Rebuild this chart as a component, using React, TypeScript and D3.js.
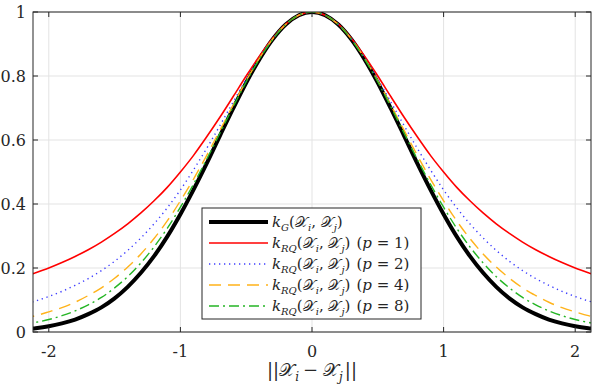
import React from 'react';
import * as d3 from 'd3';

// distance values ||Xi - Xj||
const dist = [-2.2, -2.1, -2.0, -1.9, -1.8, -1.7, -1.6, -1.5, -1.4, -1.3, -1.2, -1.1, -1.0, -0.9, -0.8, -0.7, -0.6, -0.5, -0.4, -0.3, -0.2, -0.1,
  0, 0.1, 0.2, 0.3, 0.4, 0.5, 0.6, 0.7, 0.8, 0.9, 1.0, 1.1, 1.2, 1.3, 1.4, 1.5, 1.6, 1.7, 1.8, 1.9, 2.0, 2.1, 2.2];

const kG = [.008, .012, .018, .027, .039, .056, .077, .105, .141, .185, .237, .298, .368, .445, .527, .613, .698, .779, .852, .914, .961, .990,
  1, .990, .961, .914, .852, .779, .698, .613, .527, .445, .368, .298, .237, .185, .141, .105, .077, .056, .039, .027, .018, .012, .008];
const kRQ1 = [.171, .185, .200, .217, .236, .257, .281, .308, .338, .372, .410, .452, .500, .552, .610, .671, .735, .800, .862, .917, .962, .990,
  1, .990, .962, .917, .862, .800, .735, .671, .610, .552, .500, .452, .410, .372, .338, .308, .281, .257, .236, .217, .200, .185, .171];
const kRQ2 = [.086, .097, .111, .127, .146, .167, .192, .221, .255, .294, .338, .388, .444, .507, .574, .645, .718, .790, .857, .916, .961, .990,
  1, .990, .961, .916, .857, .790, .718, .645, .574, .507, .444, .388, .338, .294, .255, .221, .192, .167, .146, .127, .111, .097, .086];
const kRQ4 = [.042, .051, .063, .076, .093, .114, .138, .168, .203, .244, .292, .347, .410, .478, .552, .630, .708, .785, .855, .915, .961, .990,
  1, .990, .961, .915, .855, .785, .708, .630, .552, .478, .410, .347, .292, .244, .203, .168, .138, .114, .093, .076, .063, .051, .042];
const kRQ8 = [.023, .030, .039, .051, .066, .085, .108, .138, .173, .216, .266, .324, .390, .462, .540, .621, .703, .782, .853, .914, .961, .990,
  1, .990, .961, .914, .853, .782, .703, .621, .540, .462, .390, .324, .266, .216, .173, .138, .108, .085, .066, .051, .039, .030, .023];

const xTicks = [-2, -1, 0, 1, 2];
const yTicks = [0, 0.2, 0.4, 0.6, 0.8, 1];
const pValues = [null, 1, 2, 4, 8];

const series = [
  { values: kG, color: '#000000', width: 4, dash: null },
  { values: kRQ1, color: '#ff0000', width: 1.6, dash: null },
  { values: kRQ2, color: '#3c3cff', width: 1.4, dash: '1.3 3.7' },
  { values: kRQ4, color: '#ffb31a', width: 1.4, dash: '12 7' },
  { values: kRQ8, color: '#25b525', width: 1.4, dash: '10 4 2 4' },
];

const W = 598, H = 387;
const m = { left: 33, right: 7, top: 12, bottom: 55 };
const FONT = "'DejaVu Serif', serif";
const SCRIPT_X = '\u{1D4B3}';
const serif: React.CSSProperties = { fontFamily: FONT };

function KernelLabel({ x, y, sub, p }: { x: number; y: number; sub: string; p: number | null }) {
  return (
    <text x={x} y={y} style={serif} fontSize={15} fill="#262626">
      <tspan fontStyle="italic">k</tspan>
      <tspan fontStyle="italic" fontSize={10} dy={4}>{sub}</tspan>
      <tspan dy={-4}>(</tspan>
      <tspan>{SCRIPT_X}</tspan>
      <tspan fontStyle="italic" fontSize={10} dy={4}>i</tspan>
      <tspan dy={-4}>, </tspan>
      <tspan>{SCRIPT_X}</tspan>
      <tspan fontStyle="italic" fontSize={10} dy={4}>j</tspan>
      <tspan dy={-4}>)</tspan>
      {p !== null && (
        <>
          <tspan dx={6}>(</tspan>
          <tspan fontStyle="italic">p</tspan>
          <tspan> = {p})</tspan>
        </>
      )}
    </text>
  );
}

export default function App() {
  const x = d3.scaleLinear().domain([-2.12, 2.12]).range([m.left, W - m.right]);
  const y = d3.scaleLinear().domain([0, 1]).range([H - m.bottom, m.top]);
  const line = d3.line<number>()
    .x((_, i) => x(dist[i]))
    .y(d => y(d))
    .curve(d3.curveMonotoneX);

  const x0 = m.left, x1 = W - m.right, y0 = H - m.bottom, y1 = m.top;
  const axisColor = '#262626';

  const lg = { x: 202, y: 208, w: 219, h: 111 };

  return (
    <svg width={W} height={H} style={{ position: 'absolute', left: 0, top: 0, background: '#fff' }}>
      <defs>
        <clipPath id="plot">
          <rect x={x0} y={y1} width={x1 - x0} height={y0 - y1} />
        </clipPath>
      </defs>
      <rect x={0} y={0} width={W} height={H} fill="#fff" />
      {xTicks.map(t => (
        <line key={'gx' + t} x1={x(t)} x2={x(t)} y1={y0} y2={y1} stroke="#e3e3e3" strokeWidth={1} />
      ))}
      {yTicks.map(t => (
        <line key={'gy' + t} x1={x0} x2={x1} y1={y(t)} y2={y(t)} stroke="#e3e3e3" strokeWidth={1} />
      ))}
      <g clipPath="url(#plot)">
        {series.map((s, i) => (
          <path key={i} d={line(s.values) || ''} fill="none" stroke={s.color} strokeWidth={s.width}
            strokeDasharray={s.dash || undefined} />
        ))}
      </g>
      <rect x={x0} y={y1} width={x1 - x0} height={y0 - y1} fill="none" stroke={axisColor} strokeWidth={1} />
      {xTicks.map(t => (
        <g key={'tx' + t}>
          <line x1={x(t)} x2={x(t)} y1={y0} y2={y0 - 5} stroke={axisColor} />
          <line x1={x(t)} x2={x(t)} y1={y1} y2={y1 + 5} stroke={axisColor} />
          <text x={x(t)} y={y0 + 25} textAnchor="middle" style={serif} fontSize={16} fill={axisColor}>{String(t)}</text>
        </g>
      ))}
      {yTicks.map(t => (
        <g key={'ty' + t}>
          <line x1={x0} x2={x0 + 5} y1={y(t)} y2={y(t)} stroke={axisColor} />
          <line x1={x1} x2={x1 - 5} y1={y(t)} y2={y(t)} stroke={axisColor} />
          <text x={x0 - 7} y={y(t) + 6} textAnchor="end" style={serif} fontSize={16} fill={axisColor}>{String(t)}</text>
        </g>
      ))}
      <text x={(x0 + x1) / 2} y={H - 11} textAnchor="middle" style={serif} fontSize={18} fill={axisColor}>
        <tspan>||</tspan>
        <tspan>{SCRIPT_X}</tspan>
        <tspan fontStyle="italic" fontSize={12} dy={5} dx={1}>i</tspan>
        <tspan dy={-5} dx={4}>−</tspan>
        <tspan dx={5}>{SCRIPT_X}</tspan>
        <tspan fontStyle="italic" fontSize={12} dy={5} dx={1}>j</tspan>
        <tspan dy={-5} dx={2}>||</tspan>
      </text>
      <rect x={lg.x} y={lg.y} width={lg.w} height={lg.h} fill="#fff" stroke={axisColor} strokeWidth={1} />
      {series.map((s, i) => {
        const ry = lg.y + 14 + i * 21;
        return (
          <g key={'lg' + i}>
            <line x1={lg.x + 7} x2={lg.x + 66} y1={ry} y2={ry} stroke={s.color} strokeWidth={s.width}
              strokeDasharray={s.dash || undefined} />
            <KernelLabel x={lg.x + 70} y={ry + 5} sub={i === 0 ? 'G' : 'RQ'} p={pValues[i]} />
          </g>
        );
      })}
    </svg>
  );
}
